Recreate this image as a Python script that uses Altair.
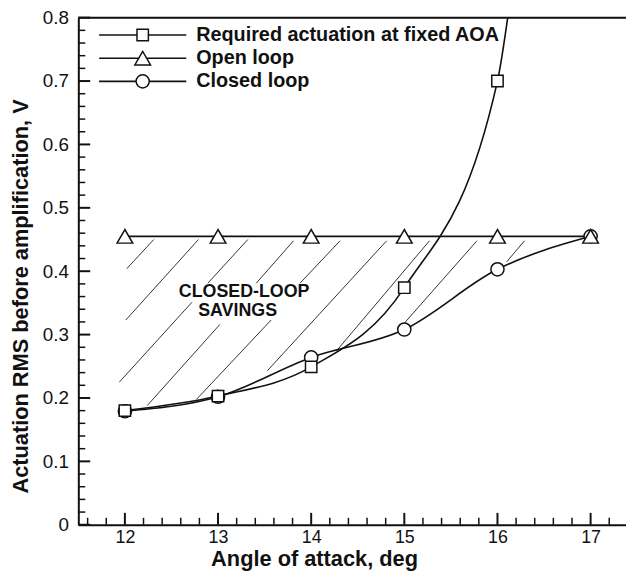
import altair as alt
import pandas as pd
import numpy as np

# ---------------- data ----------------
aoa = [12, 13, 14, 15, 16, 17]
required_x = [12, 13, 14, 15, 16]
required_y = [0.180, 0.203, 0.249, 0.374, 0.700]
required_tail_x = [16.11]          # curve leaves the frame here
required_tail_y = [0.80]
open_loop_y = [0.455, 0.455, 0.455, 0.455, 0.455, 0.455]
closed_loop_y = [0.179, 0.202, 0.264, 0.308, 0.403, 0.455]

# hatch segments of the "closed-loop savings" region
hatch_x1 = [12.02, 12.01, 11.94, 12.89, 12.24, 13.41, 12.77, 13.88, 13.53, 14.27, 15.00, 16.10]
hatch_y1 = [0.404, 0.323, 0.225, 0.381, 0.188, 0.381, 0.198, 0.381, 0.243, 0.274, 0.318, 0.415]
hatch_x2 = [12.31, 12.79, 12.72, 13.32, 13.02, 13.81, 13.57, 14.31, 14.81, 15.27, 15.78, 16.29]
hatch_y2 = [0.450, 0.450, 0.351, 0.450, 0.316, 0.448, 0.323, 0.448, 0.448, 0.448, 0.448, 0.448]

note_text = ["CLOSED-LOOP", "SAVINGS"]
note_x = [13.28, 13.21]
note_y = [0.3675, 0.3375]

legend_labels = ["Required actuation at fixed AOA", "Open loop", "Closed loop"]
legend_shapes = ["square", "triangle-up", "circle"]

y_ticks = [0, 0.1, 0.2, 0.3, 0.4, 0.5, 0.6, 0.7, 0.8]
x_ticks = [12, 13, 14, 15, 16, 17]

# ---------------- layout / style ----------------
W, H = 553, 512
FONT = "Liberation Sans"
INK = "#111111"
xs = alt.Scale(domain=[11.5, 17.38], nice=False, zero=False)
ys = alt.Scale(domain=[0, 0.8], nice=False, zero=False)
sizes = {"square": 132, "triangle-up": 250, "circle": 177}

x_axis = alt.Axis(
    values=x_ticks, format="d", title="Angle of attack, deg",
    grid=False, ticks=False, tickSize=0, domain=True, domainColor=INK, domainWidth=2,
    labelFont=FONT, labelFontSize=18, labelColor=INK, labelPadding=4,
    titleFont=FONT, titleFontSize=22, titleFontWeight="bold", titleColor=INK,
    titleX=238, titleY=41, titleBaseline="alphabetic")
y_axis = alt.Axis(
    values=y_ticks, format="~g", title="Actuation RMS before amplification, V",
    grid=False, ticks=False, tickSize=0, domain=True, domainColor=INK, domainWidth=2,
    labelFont=FONT, labelFontSize=19, labelColor=INK, labelPadding=10,
    titleFont=FONT, titleFontSize=22, titleFontWeight="bold", titleColor=INK,
    titleX=-51, titleY=281, titleBaseline="alphabetic")

X = lambda: alt.X("x:Q", scale=xs, axis=x_axis)
Y = lambda: alt.Y("y:Q", scale=ys, axis=y_axis)

# ---------------- frames ----------------
req_line = pd.DataFrame({"x": required_x + required_tail_x, "y": required_y + required_tail_y})
req_pts = pd.DataFrame({"x": required_x, "y": required_y})
open_df = pd.DataFrame({"x": aoa, "y": open_loop_y})
closed_df = pd.DataFrame({"x": aoa, "y": closed_loop_y})
hatch_df = pd.DataFrame({"x": hatch_x1, "y": hatch_y1, "x2": hatch_x2, "y2": hatch_y2})
note_df = pd.DataFrame({"x": note_x, "y": note_y, "t": note_text})

minor_y = [round(v, 2) for v in np.arange(0, 0.801, 0.02) if round(v * 10, 3) % 1 != 0]
minor_x = [round(v, 1) for v in np.arange(11.6, 17.39, 0.2) if abs(v - round(v)) > 1e-6]

hatch = alt.Chart(hatch_df).mark_rule(color="#333333", strokeWidth=1).encode(
    x=X(), y=Y(), x2="x2:Q", y2="y2:Q")

open_line = alt.Chart(open_df).mark_line(color=INK, strokeWidth=1.6).encode(x=X(), y=Y())
req_curve = alt.Chart(req_line).mark_line(color=INK, strokeWidth=1.6, interpolate="monotone").encode(x=X(), y=Y())
closed_curve = alt.Chart(closed_df).mark_line(color=INK, strokeWidth=1.6, interpolate="monotone").encode(x=X(), y=Y())

def pts(df, shape):
    return alt.Chart(df).mark_point(shape=shape, size=sizes[shape], fill="white", fillOpacity=1,
                                    stroke=INK, strokeWidth=1.5, opacity=1).encode(x=X(), y=Y())

notes = alt.Chart(note_df).mark_text(font=FONT, fontSize=18, fontWeight="bold", color=INK,
                                     align="center", baseline="middle").encode(x=X(), y=Y(), text="t:N")

# inward ticks
def yt(vals, length, sw):
    return alt.Chart(pd.DataFrame({"y": vals})).mark_rule(color=INK, strokeWidth=sw).encode(
        y=Y(), x=alt.value(0), x2=alt.value(length))

def xt(vals, length, sw):
    return alt.Chart(pd.DataFrame({"x": vals})).mark_rule(color=INK, strokeWidth=sw).encode(
        x=X(), y=alt.value(H), y2=alt.value(H - length))

top_rule = alt.Chart(pd.DataFrame({"y": [0.8]})).mark_rule(color=INK, strokeWidth=2).encode(
    y=Y(), x=alt.value(0), x2=alt.value(W))

# legend (manual, like the reference: line - symbol - line, then label)
legend_layers = []
for i, (lab, shp) in enumerate(zip(legend_labels, legend_shapes)):
    ry = 17.5 + i * 23.4
    d = pd.DataFrame({"t": [lab]})
    legend_layers.append(alt.Chart(d).mark_rule(color=INK, strokeWidth=1.6).encode(
        x=alt.value(21), x2=alt.value(109), y=alt.value(ry)))
    legend_layers.append(alt.Chart(d).mark_point(shape=shp, size=sizes[shp], fill="white", fillOpacity=1,
                                                 stroke=INK, strokeWidth=1.5, opacity=1).encode(
        x=alt.value(65), y=alt.value(ry)))
    legend_layers.append(alt.Chart(d).mark_text(font=FONT, fontSize=20, fontWeight="bold", color=INK,
                                                align="left", baseline="middle").encode(
        x=alt.value(119), y=alt.value(ry), text="t:N"))

chart = alt.layer(
    open_line, hatch, req_curve, closed_curve,
    pts(closed_df, "circle"), pts(req_pts, "square"), pts(open_df, "triangle-up"),
    notes,
    yt(y_ticks, 12, 2), yt(minor_y, 7, 1.5), xt(x_ticks, 12, 2), xt(minor_x, 7, 1.5),
    top_rule, *legend_layers,
).properties(
    width=W, height=H,
    autosize=alt.AutoSizeParams(type="none"),
    padding={"left": 71, "top": 7, "right": 0, "bottom": 50},
).configure_view(stroke=None).configure(background="white")

chart.save("out.html", embed_options={"renderer": "svg", "actions": False})
